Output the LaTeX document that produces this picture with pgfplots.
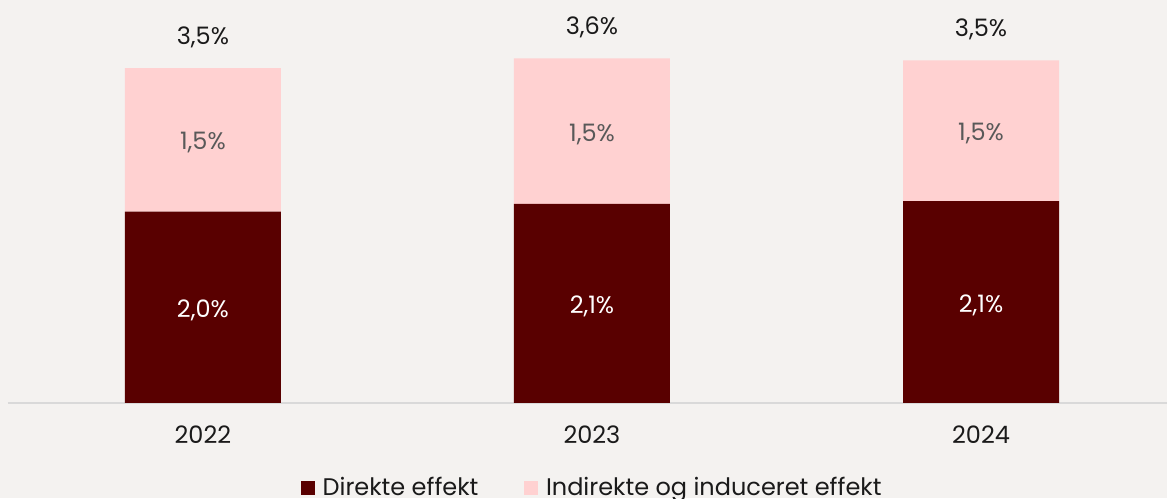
\documentclass[border=0pt]{standalone}
\usepackage{fontspec}
\setmainfont{Poppins}
\usepackage{pgfplots}
\pgfplotsset{compat=1.18}
\definecolor{bgcol}{HTML}{F4F2F0}
\definecolor{darkred}{HTML}{590000}
\definecolor{lightpink}{HTML}{FFD1D1}
\definecolor{txt}{HTML}{1A1A1A}
\definecolor{axisgrey}{HTML}{D9D9D9}
\begin{document}
\begin{tikzpicture}[font=\fontsize{12}{14}\selectfont]
\path[use as bounding box] (0,0) rectangle (583.5pt,249pt);
\fill[bgcol] (0,0) rectangle (583.5pt,249pt);
\clip (0,0) rectangle (583.5pt,249pt);
\pgfplotsset{
  base/.style={
    at={(4pt,47.5pt)}, anchor=south west,
    scale only axis, width=579.5pt, height=200.97pt,
    xmin=-0.501, xmax=2.478, ymin=0, ymax=4.2,
    point meta=explicit symbolic,
  },
}
\begin{axis}[
  base,
  ybar stacked, bar width=78pt,
  axis x line=bottom, axis y line=none,
  axis line style={draw=axisgrey, line width=0.8pt, -},
  xtick={0,1,2}, xticklabels={2022,2023,2024},
  major tick length=0pt,
  xticklabel style={anchor=center, yshift=-16pt, text=txt},
  legend columns=2,
  legend style={at={(rel axis cs:0.505,0)}, anchor=center, yshift=-42.5pt,
    draw=none, fill=none, text=txt,
    /tikz/every even column/.append style={column sep=21pt}},
  legend image code/.code={\fill[#1] (0pt,-3.5pt) rectangle (7pt,3.5pt);
    \path (8.8pt,0pt);},
]
\addplot[fill=darkred, draw=none, nodes near coords,
  every node near coord/.append style={anchor=center, yshift=-1.5pt, text=white}]
  coordinates {(0,2.00) [2,0\%] (1,2.08) [2,1\%] (2,2.11) [2,1\%]};
\addplot[fill=lightpink, draw=none, nodes near coords,
  every node near coord/.append style={anchor=center, yshift=-1.5pt, text=black!65}]
  coordinates {(0,1.50) [1,5\%] (1,1.52) [1,5\%] (2,1.47) [1,5\%]};
\legend{Direkte effekt, Indirekte og induceret effekt}
\end{axis}
\begin{axis}[
  base, hide axis,
]
\addplot[draw=none, mark=none, nodes near coords,
  every node near coord/.append style={anchor=center, yshift=15.5pt, text=txt}]
  coordinates {(0,3.50) [3,5\%] (1,3.60) [3,6\%] (2,3.58) [3,5\%]};
\end{axis}
\end{tikzpicture}
\end{document}
